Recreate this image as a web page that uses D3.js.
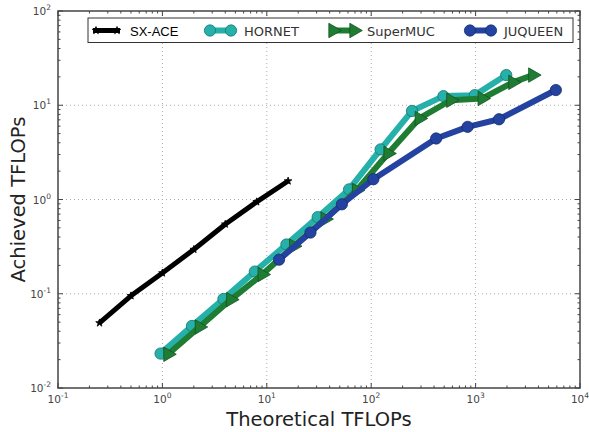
<!DOCTYPE html>
<html>
<head>
<meta charset="utf-8">
<script src="https://cdn.jsdelivr.net/npm/d3@7"></script>
<style>
  body { margin: 0; background: #fff; }
  svg { display: block; font-family: "DejaVu Sans", sans-serif; }
</style>
</head>
<body>
<svg id="chart" width="589" height="432"></svg>
<script>
// data (theoretical TFLOPs -> achieved TFLOPs)
const sxaceX = [0.25, 0.5, 1, 2, 4, 8, 16];
const sxaceY = [0.049, 0.095, 0.166, 0.295, 0.547, 0.944, 1.57];

const hornetX = [0.96, 1.92, 3.84, 7.68, 15.4, 30.7, 61.4, 123, 246, 492, 983, 1966];
const hornetY = [0.0232, 0.0455, 0.088, 0.172, 0.333, 0.65, 1.28, 3.4, 8.7, 12.5, 12.8, 20.9];

const supermucX = [1.13, 2.26, 4.52, 9.04, 18.1, 36.2, 72.3, 145, 289, 579, 1157, 2275, 3530];
const supermucY = [0.0228, 0.0444, 0.0867, 0.16, 0.32, 0.62, 1.25, 3.08, 7.24, 11.3, 11.8, 17.5, 20.9];

const juqueenX = [13.1, 26.2, 52.4, 104.9, 419, 839, 1678, 5872];
const juqueenY = [0.23, 0.446, 0.89, 1.64, 4.44, 5.9, 7.1, 14.5];

const xTickExps = [-1, 0, 1, 2, 3, 4];
const yTickExps = [-2, -1, 0, 1, 2];

const series = [
  { name: "SX-ACE", xs: sxaceX, ys: sxaceY, color: "#000000", marker: "star", width: 5 },
  { name: "HORNET", xs: hornetX, ys: hornetY, color: "#25b1aa", marker: "circle", width: 6 },
  { name: "SuperMUC", xs: supermucX, ys: supermucY, color: "#1f7d33", marker: "triangle", width: 6 },
  { name: "JUQUEEN", xs: juqueenX, ys: juqueenY, color: "#2443a0", marker: "circle", width: 6 }
];

const svg = d3.select("#chart");
const margin = { left: 58, right: 9, top: 11, bottom: 44 };
const W = 589 - margin.left - margin.right;
const H = 432 - margin.top - margin.bottom;

const x = d3.scaleLog().domain([0.1, 10000]).range([0, W]);
const y = d3.scaleLog().domain([0.01, 100]).range([H, 0]);

const g = svg.append("g").attr("transform", `translate(${margin.left},${margin.top})`);

// grid
const majorX = xTickExps.map(e => Math.pow(10, e));
const majorY = yTickExps.map(e => Math.pow(10, e));
g.append("g").selectAll("line").data(majorX.slice(1, -1)).enter().append("line")
  .attr("x1", d => x(d)).attr("x2", d => x(d)).attr("y1", 0).attr("y2", H)
  .attr("stroke", "#aaa").attr("stroke-width", 1).attr("stroke-dasharray", "1,3");
g.append("g").selectAll("line").data(majorY.slice(1, -1)).enter().append("line")
  .attr("y1", d => y(d)).attr("y2", d => y(d)).attr("x1", 0).attr("x2", W)
  .attr("stroke", "#aaa").attr("stroke-width", 1).attr("stroke-dasharray", "1,3");

// ticks inside on all sides
const minorX = [], minorY = [];
xTickExps.slice(0, -1).forEach(e => { for (let k = 2; k < 10; k++) minorX.push(k * Math.pow(10, e)); });
yTickExps.slice(0, -1).forEach(e => { for (let k = 2; k < 10; k++) minorY.push(k * Math.pow(10, e)); });

const tickG = g.append("g").attr("stroke", "#444").attr("stroke-width", 1);
[[majorX, 5], [minorX, 2.5]].forEach(([vals, len]) => {
  vals.forEach(v => {
    tickG.append("line").attr("x1", x(v)).attr("x2", x(v)).attr("y1", H).attr("y2", H - len);
    tickG.append("line").attr("x1", x(v)).attr("x2", x(v)).attr("y1", 0).attr("y2", len);
  });
});
[[majorY, 5], [minorY, 2.5]].forEach(([vals, len]) => {
  vals.forEach(v => {
    tickG.append("line").attr("y1", y(v)).attr("y2", y(v)).attr("x1", 0).attr("x2", len);
    tickG.append("line").attr("y1", y(v)).attr("y2", y(v)).attr("x1", W).attr("x2", W - len);
  });
});

// tick labels
function powLabel(sel, e) {
  sel.append("tspan").text("10").attr("font-size", 10.5);
  sel.append("tspan").text(e).attr("font-size", 7.5).attr("dy", -5);
}
xTickExps.forEach(e => {
  const t = g.append("text").attr("x", x(Math.pow(10, e))).attr("y", H + 14.5)
    .attr("text-anchor", "middle").attr("fill", "#444");
  powLabel(t, e);
});
yTickExps.forEach(e => {
  const t = g.append("text").attr("x", -7).attr("y", y(Math.pow(10, e)) + 4)
    .attr("text-anchor", "end").attr("fill", "#444");
  powLabel(t, e);
});

// series
const line = d3.line().x(d => x(d[0])).y(d => y(d[1]));
function markerPath(type) {
  if (type === "star") return d3.symbol(d3.symbolStar, 18)();
  if (type === "circle") return d3.symbol(d3.symbolCircle, 100)();
  return d3.symbol(d3.symbolTriangle, 90)();
}
function drawMarkers(sel, s, pts) {
  sel.append("g").selectAll("path").data(pts).enter().append("path")
    .attr("d", markerPath(s.marker))
    .attr("transform", d => `translate(${d[0]},${d[1]})` + (s.marker === "triangle" ? " rotate(90)" : ""))
    .attr("fill", s.color)
    .attr("stroke", s.marker === "star" ? "#000" : d3.color(s.color).darker(1.2))
    .attr("stroke-width", 0.8);
}

series.forEach(s => {
  const pts = s.xs.map((v, i) => [v, s.ys[i]]);
  const sg = g.append("g");
  sg.append("path").attr("d", line(pts)).attr("fill", "none")
    .attr("stroke", s.color).attr("stroke-width", s.width).attr("stroke-linejoin", "round");
  drawMarkers(sg, s, pts.map(p => [x(p[0]), y(p[1])]));
});

// frame
g.append("rect").attr("width", W).attr("height", H).attr("fill", "none")
  .attr("stroke", "#444").attr("stroke-width", 1.5);

// legend
const leg = svg.append("g");
leg.append("rect").attr("x", 88).attr("y", 18).attr("width", 485).attr("height", 24.5)
  .attr("fill", "#fff").attr("stroke", "#333").attr("stroke-width", 1);
const legX = [93, 207, 330, 467];
series.forEach((s, i) => {
  const x0 = legX[i], x1 = x0 + 27, yy = 30.5;
  const eg = leg.append("g");
  eg.append("line").attr("x1", x0).attr("x2", x1).attr("y1", yy).attr("y2", yy)
    .attr("stroke", s.color).attr("stroke-width", s.width);
  drawMarkers(eg, s, [[x0 + 3, yy], [x1 - 3, yy]]);
  eg.append("text").attr("x", x1 + 10).attr("y", yy + 5).text(s.name)
    .attr("font-size", 13).attr("fill", i === 0 ? "#000" : "#333")
    .attr("font-family", i === 0 ? "Liberation Sans, Arial, sans-serif" : null);
});

// axis titles
svg.append("text").attr("x", margin.left + W / 2).attr("y", 426)
  .attr("text-anchor", "middle").attr("font-size", 19.5).attr("fill", "#222")
  .text("Theoretical TFLOPs");
svg.append("text").attr("transform", `translate(25,${margin.top + H / 2}) rotate(-90)`)
  .attr("text-anchor", "middle").attr("font-size", 19.5).attr("fill", "#222")
  .text("Achieved TFLOPs");
</script>
</body>
</html>
